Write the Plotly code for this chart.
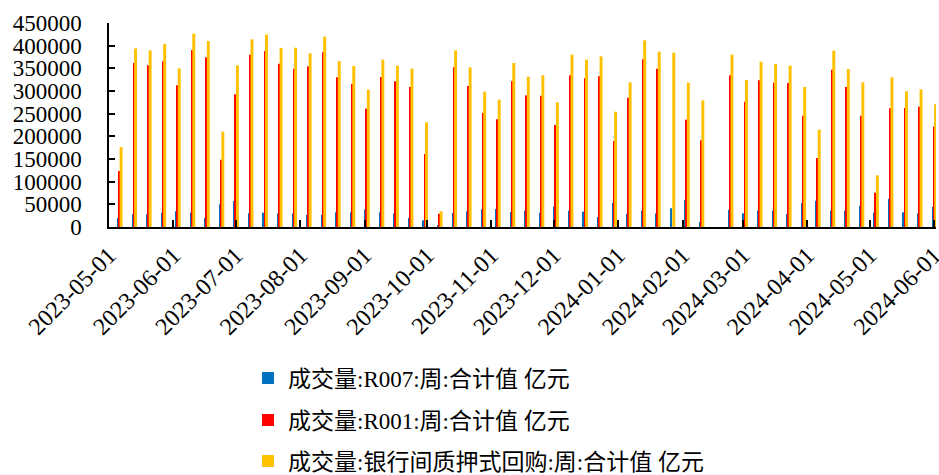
import plotly.graph_objects as go
import pandas as pd

# Weekly dates (Fridays); 2024-02-16 (Spring Festival week) has no data
dates = pd.date_range("2023-05-05", "2024-05-31", freq="7D").strftime("%Y-%m-%d").tolist()

r007 = [20000, 28000, 28000, 31600, 34600, 31600, 20000, 50000,
        57400, 30100, 31600, 30100, 30000, 26500, 27200, 32400,
        32400, 39000, 32400, 30100, 19900, 14700, 3700, 30900,
        34600, 39000, 39700, 33100, 36000, 31600, 44900, 36000,
        33800, 22000, 52900, 29400, 36000, 30000, 41200, 60000,
        11000, None, 38200, 30000, 36000, 36000, 28700, 52900,
        58100, 36000, 36000, 47100, 31600, 62500, 32400, 30100, 44900]

r001 = [123500, 361800, 356600, 365500, 312500, 390400, 374300, 148500,
        292700, 380200, 388200, 360300, 349300, 354400, 385300, 330200,
        315400, 261000, 330900, 321300, 308800, 161000, 29400, 352200,
        311000, 251500, 237500, 321300, 290400, 289700, 225000, 334600,
        328000, 332400, 189700, 285300, 369900, 349300, None, 236800,
        191200, None, 334600, 276500, 323500, 318400, 317600, 245600,
        152200, 347100, 308800, 245600, 75700, 261800, 262500, 265400, 221300]

repo = [176500, 394000, 389700, 403700, 350000, 426500, 410300, 210300,
        356600, 414000, 424300, 394900, 395600, 383100, 419900, 366200,
        355100, 302900, 369100, 355900, 349300, 230900, 34600, 389700,
        352200, 298500, 280900, 361800, 331600, 334600, 275000, 380200,
        369100, 376500, 254400, 319100, 411800, 386800, 384600, 318400,
        279400, None, 380200, 324300, 364700, 359600, 355900, 308800,
        214700, 389000, 348500, 319100, 114000, 330200, 299300, 303700, 270600]

names = ["成交量:R007:周:合计值 亿元",
         "成交量:R001:周:合计值 亿元",
         "成交量:银行间质押式回购:周:合计值 亿元"]
colors = ["#0070C0", "#FF0000", "#FFC000"]

DAY = 86400000
FONT = "Liberation Serif, Noto Sans CJK SC, serif"

fig = go.Figure()
specs = [(r007, 0.1, 0.6, "legend"), (r001, 0.6, 0.6, "legend2"), (repo, 1.1, 1.4, "legend3")]
for (vals, off, w, lg), nm, c in zip(specs, names, colors):
    fig.add_trace(go.Bar(x=dates, y=vals, name=nm, marker=dict(color=c, line=dict(width=0)),
                         offset=off * DAY, width=w * DAY, legend=lg, showlegend=True))

# plot area in window pixels: x 109..936, y 23..227
PW, PH, PB = 827.0, 204.0, 227.0
def py(ypix):
    return (PB - ypix) / PH

leg_common = dict(x=(248 - 109) / PW, xanchor="left", yanchor="middle",
                  font=dict(family=FONT, size=23, color="#000"), bgcolor="rgba(0,0,0,0)")
fig.update_layout(
    width=939, height=475,
    margin=dict(l=109, r=3, t=23, b=248, autoexpand=False),
    plot_bgcolor="white", paper_bgcolor="white",
    barmode="overlay", showlegend=True,
    font=dict(family=FONT, size=23, color="#000"),
    legend=dict(y=py(378), **leg_common),
    legend2=dict(y=py(420), **leg_common),
    legend3=dict(y=py(461), **leg_common),
    xaxis=dict(type="date", range=["2023-05-01", "2024-06-02"], dtick="M1", tick0="2023-05-01",
               tickformat="%Y-%m-%d", tickangle=-45, ticks="inside", ticklen=7, tickcolor="#000",
               tickwidth=1.5, showline=True, linecolor="#000", linewidth=1.5, showgrid=False,
               tickfont=dict(family=FONT, size=24), ticklabelstandoff=3, automargin=False,
               ticklabeloverflow="allow"),
    yaxis=dict(range=[0, 450000], dtick=50000, tickformat="d", ticks="inside", ticklen=6,
               tickcolor="#000", tickwidth=1.5, showline=True, linecolor="#000", linewidth=1.5,
               showgrid=False, zeroline=False, tickfont=dict(family=FONT, size=23),
               ticklabelstandoff=21, automargin=False),
)
fig.write_html("out.html", config={"displayModeBar": False},
               post_script="document.body.style.margin='0';document.body.style.overflow='hidden';")
